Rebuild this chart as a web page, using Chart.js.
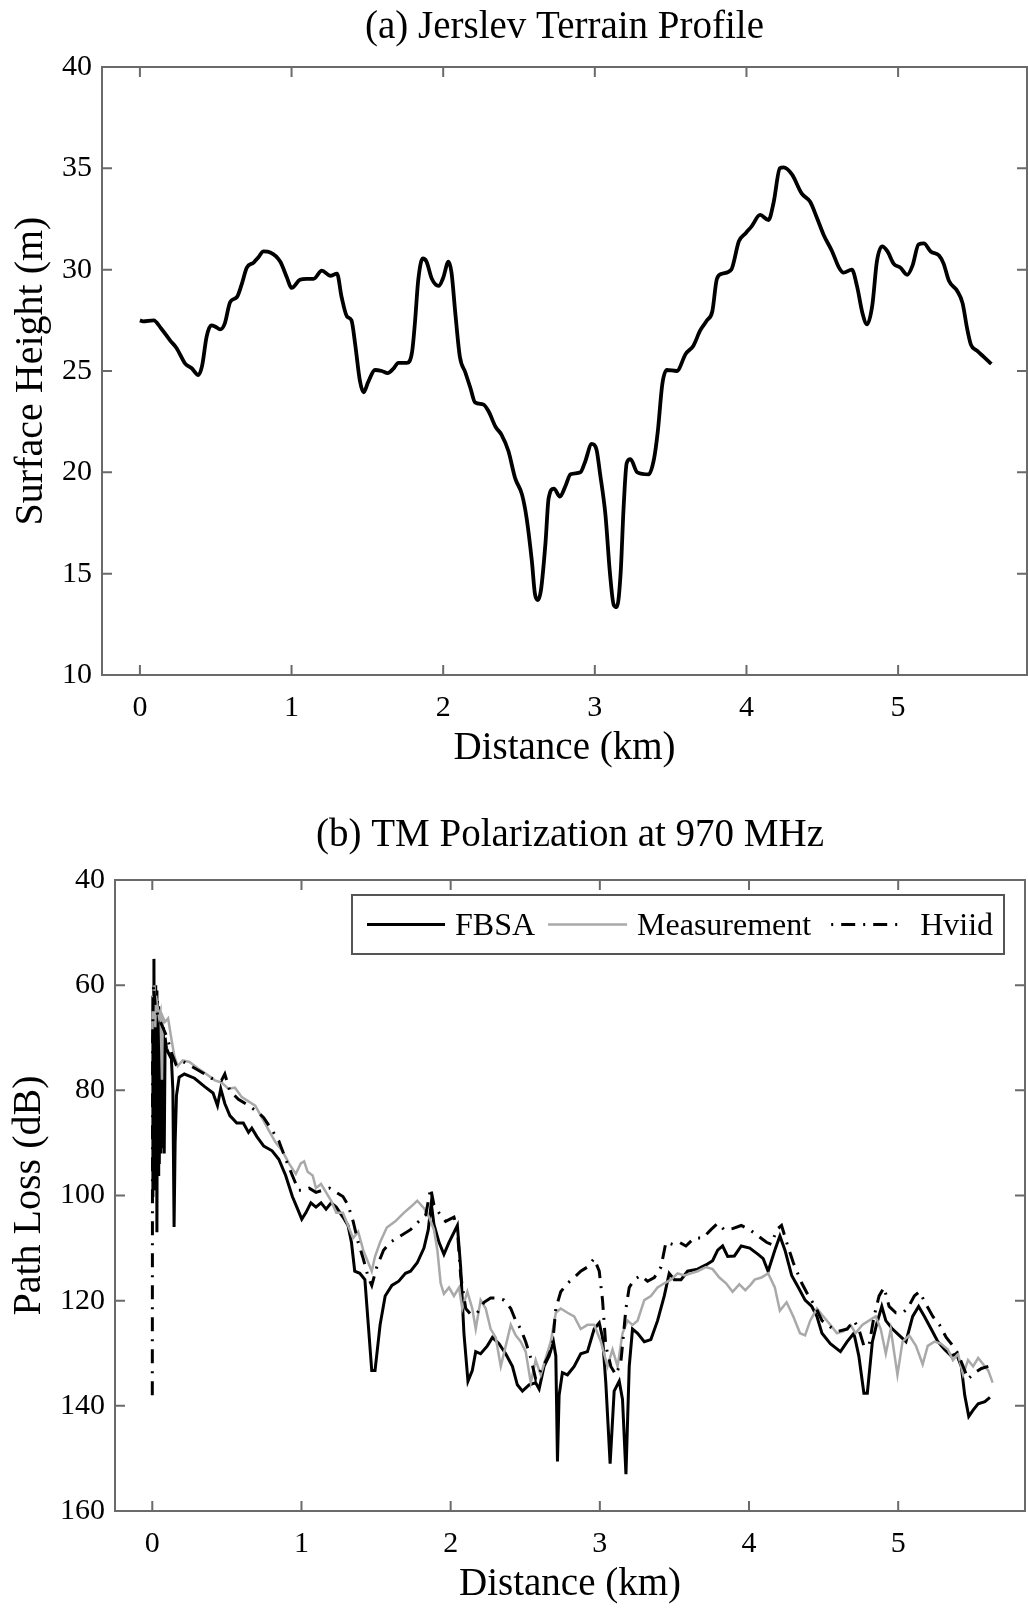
<!DOCTYPE html>
<html>
<head>
<meta charset="utf-8">
<title>Jerslev terrain profile and TM path loss</title>
<script src="https://cdn.jsdelivr.net/npm/chart.js@4.4.1/dist/chart.umd.min.js"></script>
<style>
  html, body { margin: 0; padding: 0; background: #fff; }
  #top { position: absolute; left: 0; top: 0; width: 1028px; height: 780px; }
  #bottom { position: absolute; left: 0; top: 780px; width: 1028px; height: 829px; }
</style>
</head>
<body>
<div id="top"><canvas id="terrain"></canvas></div>
<div id="bottom"><canvas id="loss"></canvas></div>
<script>
// (a) terrain profile
const terrainKm = [0, 0.02, 0.09, 0.14, 0.20, 0.24, 0.30, 0.34, 0.385, 0.41,
  0.44, 0.47, 0.495, 0.53, 0.56, 0.595, 0.64, 0.67, 0.705, 0.75,
  0.78, 0.815, 0.86, 0.925, 0.97, 1.00, 1.055, 1.10, 1.145, 1.20,
  1.255, 1.30, 1.33, 1.365, 1.395, 1.42, 1.45, 1.475, 1.505, 1.55,
  1.595, 1.635, 1.67, 1.705, 1.76, 1.795, 1.815, 1.835, 1.865, 1.89,
  1.925, 1.97, 2.00, 2.035, 2.055, 2.08, 2.11, 2.145, 2.18, 2.21,
  2.265, 2.30, 2.345, 2.385, 2.43, 2.475, 2.52, 2.55, 2.585, 2.605,
  2.625, 2.645, 2.675, 2.695, 2.73, 2.77, 2.805, 2.84, 2.905, 2.935,
  2.98, 3.01, 3.035, 3.07, 3.10, 3.125, 3.145, 3.17, 3.19, 3.21,
  3.235, 3.28, 3.355, 3.39, 3.415, 3.445, 3.475, 3.54, 3.60, 3.65,
  3.695, 3.74, 3.775, 3.805, 3.84, 3.90, 3.95, 3.995, 4.035, 4.09,
  4.145, 4.18, 4.22, 4.245, 4.30, 4.365, 4.42, 4.465, 4.51, 4.565,
  4.61, 4.64, 4.695, 4.73, 4.765, 4.795, 4.83, 4.86, 4.895, 4.93,
  4.97, 5.015, 5.06, 5.095, 5.135, 5.17, 5.215, 5.27, 5.30, 5.335,
  5.39, 5.425, 5.455, 5.48, 5.52, 5.565, 5.615];
const terrainHeight = [27.5, 27.45, 27.5, 27.1, 26.5, 26.15, 25.35, 25.15, 24.8, 25.25,
  26.7, 27.25, 27.2, 27.05, 27.35, 28.4, 28.65, 29.25, 30.1, 30.35,
  30.6, 30.9, 30.85, 30.4, 29.6, 29.1, 29.5, 29.55, 29.55, 29.95,
  29.7, 29.8, 28.65, 27.7, 27.5, 26.3, 24.55, 23.95, 24.45, 25.05,
  25.0, 24.9, 25.1, 25.4, 25.4, 25.95, 27.5, 29.45, 30.55, 30.4,
  29.55, 29.2, 29.6, 30.4, 29.85, 27.85, 25.7, 24.95, 24.15, 23.45,
  23.35, 23.0, 22.25, 21.85, 21.05, 19.7, 18.9, 17.75, 15.6, 14.0,
  13.7, 14.2, 16.55, 18.7, 19.2, 18.8, 19.3, 19.9, 20.0, 20.5,
  21.4, 21.15, 19.9, 17.9, 15.0, 13.45, 13.35, 15.0, 18.3, 20.45,
  20.65, 20.0, 19.9, 20.65, 22.0, 24.35, 25.05, 25.0, 25.85, 26.25,
  27.0, 27.5, 27.95, 29.55, 29.8, 30.0, 31.4, 31.8, 32.15, 32.7,
  32.45, 33.35, 35.0, 35.05, 34.7, 33.75, 33.35, 32.55, 31.7, 30.9,
  30.1, 29.85, 30.0, 29.15, 27.85, 27.3, 28.25, 30.4, 31.15, 30.9,
  30.3, 30.1, 29.75, 30.2, 31.25, 31.3, 30.9, 30.7, 30.3, 29.45,
  28.95, 28.35, 27.1, 26.3, 26.0, 25.7, 25.35];

// (b) path loss, TM at 970 MHz
const fbsaKm = [0, 0.004, 0.008, 0.011, 0.015, 0.019, 0.023, 0.027, 0.031, 0.035,
  0.039, 0.043, 0.047, 0.052, 0.057, 0.062, 0.068, 0.074, 0.080, 0.086,
  0.095, 0.110, 0.128, 0.138, 0.146, 0.153, 0.162, 0.180, 0.215, 0.283,
  0.351, 0.407, 0.437, 0.459, 0.486, 0.520, 0.566, 0.610, 0.645, 0.667,
  0.701, 0.747, 0.803, 0.848, 0.894, 0.939, 0.973, 1.002, 1.029, 1.063,
  1.097, 1.131, 1.165, 1.199, 1.233, 1.278, 1.312, 1.335, 1.357, 1.391,
  1.425, 1.448, 1.471, 1.493, 1.527, 1.561, 1.606, 1.652, 1.697, 1.731,
  1.776, 1.821, 1.850, 1.870, 1.888, 1.922, 1.955, 1.989, 2.045, 2.067,
  2.089, 2.116, 2.145, 2.168, 2.201, 2.246, 2.280, 2.324, 2.369, 2.414,
  2.447, 2.481, 2.526, 2.570, 2.593, 2.626, 2.660, 2.689, 2.705, 2.716,
  2.727, 2.749, 2.783, 2.828, 2.872, 2.917, 2.962, 2.996, 3.018, 3.040,
  3.069, 3.096, 3.130, 3.152, 3.175, 3.197, 3.219, 3.253, 3.298, 3.342,
  3.387, 3.432, 3.465, 3.499, 3.544, 3.588, 3.655, 3.711, 3.756, 3.790,
  3.823, 3.857, 3.902, 3.948, 4.005, 4.061, 4.095, 4.128, 4.173, 4.207,
  4.241, 4.286, 4.331, 4.376, 4.421, 4.455, 4.489, 4.545, 4.613, 4.658,
  4.703, 4.736, 4.770, 4.793, 4.827, 4.854, 4.890, 4.917, 4.962, 5.007,
  5.052, 5.097, 5.137, 5.176, 5.221, 5.266, 5.311, 5.356, 5.390, 5.423,
  5.446, 5.473, 5.502, 5.536, 5.581, 5.615];
const fbsaDb = [100, 62, 98, 55, 95, 60, 99, 61, 107, 63,
  96, 64, 94, 66, 92, 67, 91, 68, 92, 70,
  72, 73, 74, 80, 106, 90, 81, 77.5, 76.9, 77.7,
  79.3, 80.5, 82.9, 79.7, 82.5, 84.8, 86.2, 86.2, 88.0, 87.2,
  88.8, 90.6, 91.5, 93.1, 96.2, 100.2, 102.5, 104.5, 103.3, 101.4,
  102.2, 101.4, 102.6, 101.4, 102.2, 104.1, 105.7, 108.9, 114.4, 114.8,
  116, 124.6, 133.3, 133.3, 124.6, 119.1, 117.1, 116.3, 114.8, 114.4,
  112.8, 110, 106.5, 101.5, 105.5, 108.9, 111.2, 108.9, 105.7, 113.6,
  126.2, 135.3, 133.3, 129.7, 130.1, 128.6, 127, 128.2, 130.1, 132.5,
  136, 137.2, 136, 135.6, 136.8, 132.5, 130.5, 127.8, 130.5, 150.6,
  138, 133.7, 134.1, 132.5, 130.1, 129.7, 125.4, 124.2, 127, 135.6,
  151, 137.2, 135.3, 138.8, 153, 132.5, 125.4, 126.2, 127.8, 127.4,
  123.8, 119.1, 114.8, 116, 116, 114.4, 114, 113.2, 112.4, 110.4,
  109.6, 111.6, 111.5, 109.6, 110, 111.2, 112, 114.4, 110.4, 107.7,
  110.4, 115.2, 117.5, 119.9, 121.1, 123.0, 126.2, 128.2, 129.7, 127.8,
  126.2, 130.5, 137.6, 137.6, 127.8, 124.6, 121.1, 123.8, 125.4, 126.6,
  127.8, 123, 121.1, 123, 125.4, 127.8, 129.3, 130.5, 130.1, 132.5,
  138, 142, 140.8, 139.6, 139.2, 138.4];

const measKm = [0, 0.005, 0.010, 0.015, 0.020, 0.025, 0.035, 0.045, 0.055, 0.065,
  0.070, 0.085, 0.106, 0.124, 0.147, 0.170, 0.204, 0.249, 0.305, 0.362,
  0.419, 0.464, 0.509, 0.554, 0.600, 0.645, 0.690, 0.735, 0.781, 0.826,
  0.871, 0.916, 0.962, 0.995, 1.018, 1.041, 1.075, 1.097, 1.131, 1.165,
  1.199, 1.233, 1.278, 1.312, 1.346, 1.380, 1.414, 1.448, 1.471, 1.493,
  1.527, 1.572, 1.629, 1.686, 1.731, 1.776, 1.821, 1.855, 1.888, 1.911,
  1.933, 1.955, 1.989, 2.022, 2.056, 2.078, 2.112, 2.145, 2.168, 2.201,
  2.235, 2.268, 2.302, 2.336, 2.369, 2.403, 2.436, 2.470, 2.503, 2.537,
  2.570, 2.604, 2.638, 2.671, 2.705, 2.738, 2.783, 2.828, 2.872, 2.917,
  2.962, 3.007, 3.051, 3.085, 3.119, 3.152, 3.186, 3.219, 3.253, 3.298,
  3.342, 3.387, 3.432, 3.477, 3.521, 3.566, 3.611, 3.655, 3.711, 3.756,
  3.801, 3.846, 3.890, 3.935, 3.975, 4.010, 4.038, 4.083, 4.128, 4.173,
  4.207, 4.252, 4.297, 4.342, 4.376, 4.410, 4.455, 4.489, 4.534, 4.590,
  4.635, 4.680, 4.714, 4.759, 4.804, 4.849, 4.883, 4.917, 4.950, 4.995,
  5.029, 5.074, 5.119, 5.164, 5.198, 5.243, 5.288, 5.333, 5.367, 5.401,
  5.435, 5.468, 5.502, 5.536, 5.570, 5.604, 5.633];
const measDb = [70, 62, 67, 60, 68, 62, 64, 66, 65, 78,
  66, 67, 66.3, 69.5, 73.4, 75.4, 74.3, 74.6, 75.8, 76.9,
  78.1, 78.5, 79.7, 79.5, 81.3, 82.1, 82.9, 85.2, 87.6, 89.9,
  91.5, 93.9, 95.9, 93.9, 93.5, 95.5, 96.2, 98.6, 97.8, 99.4,
  101, 103.3, 103.3, 105.7, 108.1, 106.9, 110.4, 112.8, 114.4, 111.6,
  108.9, 106.1, 104.9, 103.3, 102.2, 101, 102.4, 104.1, 106.5, 110.4,
  116.7, 118.7, 117.5, 119.1, 117.5, 121.5, 118.3, 121.5, 125.4, 119.9,
  121.5, 125.4, 127, 132.5, 128.6, 124.6, 126.6, 127.8, 129.7, 135.6,
  131.3, 134.1, 130.9, 127.8, 122.3, 121.5, 122.3, 123, 125.4, 124.6,
  124.6, 127.8, 132.5, 129.3, 132.5, 126.2, 123.8, 124.6, 123.8, 119.9,
  119.1, 117.5, 116.7, 116, 114.8, 115.2, 114.8, 114.4, 113.6, 114,
  115.6, 116.7, 118.3, 116.9, 118, 117, 116, 115.6, 114.8, 117.5,
  121.9, 120.3, 123, 126.2, 126.6, 123.8, 121.5, 122.7, 124.2, 126.2,
  125.8, 124.6, 126.2, 124.6, 123.8, 123, 125.4, 130.1, 125.4, 134.1,
  127.8, 126.6, 128.6, 132.1, 128.6, 127.8, 128.2, 129.3, 131.3, 130.1,
  134.1, 131.3, 132.5, 130.9, 132.1, 133.3, 135.6];

const hviidKm = [0, 0.002, 0.008, 0.020, 0.040, 0.070, 0.100, 0.130, 0.158, 0.192,
  0.260, 0.328, 0.396, 0.464, 0.486, 0.520, 0.577, 0.645, 0.701, 0.747,
  0.803, 0.848, 0.894, 0.939, 0.980, 1.018, 1.052, 1.097, 1.143, 1.188,
  1.233, 1.278, 1.312, 1.346, 1.380, 1.414, 1.448, 1.471, 1.505, 1.550,
  1.595, 1.663, 1.731, 1.787, 1.833, 1.866, 1.888, 1.922, 1.966, 2.022,
  2.045, 2.067, 2.101, 2.134, 2.179, 2.224, 2.268, 2.313, 2.358, 2.403,
  2.436, 2.470, 2.503, 2.537, 2.570, 2.604, 2.649, 2.682, 2.705, 2.738,
  2.783, 2.828, 2.872, 2.917, 2.962, 2.996, 3.018, 3.040, 3.074, 3.107,
  3.141, 3.175, 3.197, 3.230, 3.275, 3.320, 3.365, 3.410, 3.443, 3.488,
  3.533, 3.577, 3.633, 3.689, 3.745, 3.790, 3.834, 3.890, 3.948, 4.005,
  4.061, 4.117, 4.151, 4.185, 4.218, 4.252, 4.297, 4.354, 4.399, 4.444,
  4.489, 4.545, 4.601, 4.658, 4.703, 4.736, 4.770, 4.804, 4.838, 4.872,
  4.905, 4.939, 4.984, 5.029, 5.063, 5.108, 5.142, 5.187, 5.232, 5.277,
  5.322, 5.367, 5.401, 5.435, 5.468, 5.513, 5.558, 5.604];
const hviidDb = [138, 70, 60, 64, 66, 68, 70, 73, 75, 74.3,
  75.4, 76.5, 77.7, 78.1, 76.9, 80.1, 81.7, 82.9, 84, 85.2,
  87.6, 89.6, 93.1, 96.2, 99, 99, 98.6, 99.4, 99, 98.6,
  99.4, 100.2, 101.8, 104.9, 108.9, 112, 115.6, 117.1, 113.6, 110.4,
  108.9, 107.7, 106.5, 104.9, 103.7, 98.6, 101.8, 103.3, 104.9, 104.1,
  106.5, 115.2, 121.5, 122.6, 122.3, 120.3, 119.5, 119.5, 119.9, 121.5,
  123.8, 125.4, 127.8, 130.9, 134.9, 133.3, 130.9, 128.6, 121.5, 118.3,
  116.7, 115.6, 114.4, 113.6, 112, 114.4, 119.9, 128.6, 132.5, 134.1,
  131.7, 121.5, 117.5, 116, 115.2, 116.3, 115.6, 113.6, 108.9, 109.3,
  108.9, 109.6, 108.1, 108.1, 106.5, 105.3, 106.5, 106.3, 105.7, 106.5,
  107.7, 108.9, 109.3, 106.5, 105.7, 108.9, 112.8, 116.7, 119.1, 121.1,
  123.8, 125, 125.8, 125.4, 123.8, 125.4, 128.6, 128.6, 123, 119.1,
  117.5, 121.1, 122.3, 122.3, 121.5, 119.1, 118.3, 120.7, 123, 124.6,
  127, 128.6, 130.1, 132.5, 134.9, 133.7, 132.9, 132.5];

const distTicks = [0, 1, 2, 3, 4, 5];
const heightTicks = [10, 15, 20, 25, 30, 35, 40];
const lossTicks = [40, 60, 80, 100, 120, 140, 160];

const serif = 'Liberation Serif';
Chart.defaults.font.family = serif;
Chart.defaults.color = '#000';

const pts = (xs, ys) => xs.map((x, i) => ({x: x, y: ys[i]}));

// matlab style box with ticks pointing inwards
const boxTicks = {
  id: 'boxTicks',
  afterDatasetsDraw(chart) {
    const {ctx, chartArea: a, scales} = chart;
    const len = 10;
    ctx.save();
    ctx.strokeStyle = '#6a6a6a';
    ctx.lineWidth = 2;
    ctx.strokeRect(a.left, a.top, a.right - a.left, a.bottom - a.top);
    ctx.beginPath();
    scales.x.ticks.forEach(t => {
      const px = scales.x.getPixelForValue(t.value);
      ctx.moveTo(px, a.bottom); ctx.lineTo(px, a.bottom - len);
      ctx.moveTo(px, a.top); ctx.lineTo(px, a.top + len);
    });
    scales.y.ticks.forEach(t => {
      const py = scales.y.getPixelForValue(t.value);
      ctx.moveTo(a.left, py); ctx.lineTo(a.left + len, py);
      ctx.moveTo(a.right, py); ctx.lineTo(a.right - len, py);
    });
    ctx.stroke();
    ctx.restore();
  }
};

// legend box sitting inside the plot, top right
const innerLegend = {
  id: 'innerLegend',
  afterDraw(chart) {
    const {ctx, chartArea: a} = chart;
    const w = 652, h = 59;
    const bx = a.right - 21 - w, by = a.top + 15;
    const lineLen = [78, 79, 70];
    const textPad = [10, 10, 19];
    const gaps = [13, 20, 0];
    ctx.save();
    ctx.fillStyle = '#fff';
    ctx.fillRect(bx, by, w, h);
    ctx.strokeStyle = '#555';
    ctx.lineWidth = 2;
    ctx.strokeRect(bx, by, w, h);
    ctx.font = '32px "' + serif + '"';
    ctx.textBaseline = 'middle';
    const cy = by + h / 2;
    let x = bx + 15;
    chart.data.datasets.forEach((ds, i) => {
      ctx.beginPath();
      ctx.strokeStyle = ds.borderColor;
      ctx.lineWidth = ds.borderWidth;
      ctx.setLineDash(ds.borderDash || []);
      ctx.lineDashOffset = ds.borderDash ? 22 : 0;
      ctx.moveTo(x, cy);
      ctx.lineTo(x + lineLen[i], cy);
      ctx.stroke();
      ctx.setLineDash([]);
      x += lineLen[i] + textPad[i];
      ctx.fillStyle = '#000';
      ctx.fillText(ds.label, x, cy + 2);
      x += ctx.measureText(ds.label).width + gaps[i];
    });
    ctx.restore();
  }
};

function xAxis(boxHeight, titleBottom) {
  return {
    type: 'linear', min: -0.25, max: 5.85,
    afterBuildTicks: s => { s.ticks = distTicks.map(v => ({value: v})); },
    afterFit: s => { s.height = boxHeight; },
    grid: {display: false, drawTicks: false},
    border: {display: false},
    ticks: {padding: 15, font: {size: 30}, color: '#000', maxRotation: 0, autoSkip: false},
    title: {display: true, text: 'Distance (km)', font: {size: 39}, color: '#000',
      padding: {top: 0, bottom: titleBottom}}
  };
}

new Chart(document.getElementById('terrain'), {
  type: 'line',
  data: {
    datasets: [{
      label: 'Terrain',
      data: pts(terrainKm, terrainHeight),
      borderColor: '#000',
      borderWidth: 3.8,
      pointRadius: 0,
      cubicInterpolationMode: 'monotone'
    }]
  },
  options: {
    responsive: true,
    maintainAspectRatio: false,
    animation: false,
    events: [],
    layout: {padding: {left: 0, right: 1, top: 0, bottom: 0}},
    plugins: {
      legend: {display: false},
      tooltip: {enabled: false},
      title: {display: true, text: '(a) Jerslev Terrain Profile', fullSize: false,
        font: {size: 39, weight: 'normal'}, color: '#000', padding: {top: 4.6, bottom: 15.6}}
    },
    scales: {
      x: xAxis(105, 7.6),
      y: {
        min: 10, max: 40,
        afterBuildTicks: s => { s.ticks = heightTicks.map(v => ({value: v})); },
        afterFit: s => { s.width = 102; },
        grid: {display: false, drawTicks: false},
        border: {display: false},
        ticks: {padding: 10, font: {size: 30}, color: '#000'},
        title: {display: true, text: 'Surface Height (m)', font: {size: 40}, color: '#000',
          padding: {top: 7, bottom: 0}}
      }
    }
  },
  plugins: [boxTicks]
});

new Chart(document.getElementById('loss'), {
  type: 'line',
  data: {
    datasets: [{
      label: 'FBSA',
      data: pts(fbsaKm, fbsaDb),
      borderColor: '#000',
      borderWidth: 3,
      pointRadius: 0,
      order: 2
    }, {
      label: 'Measurement',
      data: pts(measKm, measDb),
      borderColor: '#a9a9a9',
      borderWidth: 2.5,
      pointRadius: 0,
      order: 1
    }, {
      label: 'Hviid',
      data: pts(hviidKm, hviidDb),
      borderColor: '#000',
      borderWidth: 3,
      borderDash: [14, 8, 2, 8],
      pointRadius: 0,
      order: 0
    }]
  },
  options: {
    responsive: true,
    maintainAspectRatio: false,
    animation: false,
    events: [],
    layout: {padding: {left: 0, right: 3, top: 0, bottom: 0}},
    plugins: {
      legend: {display: false},
      tooltip: {enabled: false},
      title: {display: true, text: '(b) TM Polarization at 970 MHz', fullSize: false,
        font: {size: 39, weight: 'normal'}, color: '#000', padding: {top: 32.6, bottom: 20.6}}
    },
    scales: {
      x: xAxis(98, 0.6),
      y: {
        reverse: true, min: 40, max: 160,
        afterBuildTicks: s => { s.ticks = lossTicks.map(v => ({value: v})); },
        afterFit: s => { s.width = 115; },
        grid: {display: false, drawTicks: false},
        border: {display: false},
        ticks: {padding: 10, font: {size: 30}, color: '#000'},
        title: {display: true, text: 'Path Loss (dB)', font: {size: 40}, color: '#000',
          padding: {top: 5, bottom: 0}}
      }
    }
  },
  plugins: [boxTicks, innerLegend]
});
</script>
</body>
</html>
